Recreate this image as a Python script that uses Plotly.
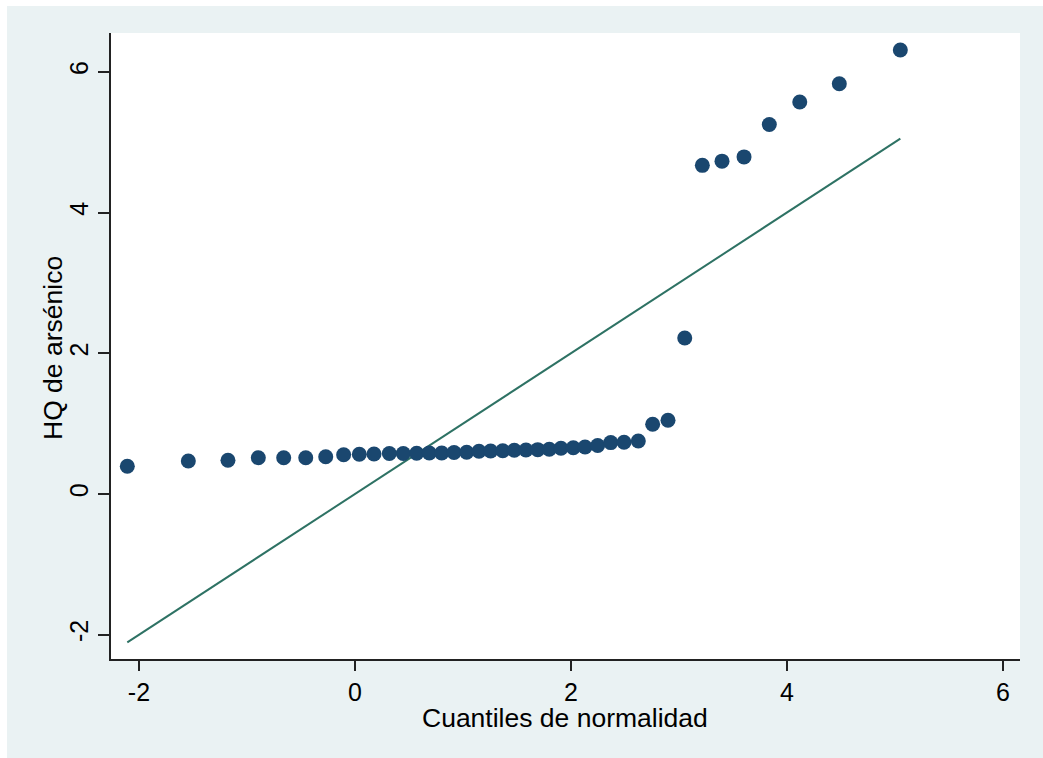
import plotly.graph_objects as go

normal_quantiles = [
    -2.108, -1.543, -1.176, -0.895, -0.660, -0.456, -0.271, -0.105, 0.040, 0.176,
    0.318, 0.447, 0.571, 0.688, 0.803, 0.917, 1.034, 1.148, 1.256, 1.368,
    1.475, 1.583, 1.692, 1.799, 1.907, 2.021, 2.130, 2.247, 2.368, 2.491,
    2.623, 2.756, 2.898, 3.053, 3.216, 3.398, 3.602, 3.836, 4.118, 4.484,
    5.049,
]
hq_arsenico = [
    0.394, 0.469, 0.479, 0.516, 0.516, 0.516, 0.530, 0.558, 0.564, 0.568,
    0.575, 0.575, 0.578, 0.583, 0.583, 0.590, 0.593, 0.607, 0.611, 0.615,
    0.621, 0.625, 0.630, 0.635, 0.650, 0.658, 0.668, 0.690, 0.730, 0.735,
    0.753, 0.990, 1.047, 2.217, 4.670, 4.730, 4.790, 5.250, 5.570, 5.830,
    6.310,
]
# Reference line y = x over the range of the normal quantiles
ref_line_x = [-2.108, 5.049]
ref_line_y = [-2.108, 5.049]

x_ticks = [-2, 0, 2, 4, 6]
y_ticks = [-2, 0, 2, 4, 6]

x_title = "Cuantiles de normalidad"
y_title = "HQ de arsénico"

NAVY = "#1a476f"
LINE = "#2e7264"
BG = "#eaf2f3"

fig = go.Figure()
fig.add_trace(go.Scatter(
    x=ref_line_x, y=ref_line_y, mode="lines",
    line=dict(color=LINE, width=2), hoverinfo="skip", showlegend=False,
))
fig.add_trace(go.Scatter(
    x=normal_quantiles, y=hq_arsenico, mode="markers",
    marker=dict(color=NAVY, size=15, line=dict(width=0)),
    showlegend=False,
))

W, H = 1043, 758
L, R, T, B = 111, 23, 33, 99
pw, ph = W - L - R, H - T - B

def px_x(p):
    return (p - L) / pw

def px_y(p):
    return (H - B - p) / ph

FONT = "Liberation Sans, Arial, sans-serif"

fig.update_layout(
    width=W, height=H,
    margin=dict(l=L, r=R, t=T, b=B, pad=0),
    paper_bgcolor=BG,
    plot_bgcolor="white",
    font=dict(family=FONT, size=25, color="black"),
    xaxis=dict(
        range=[-2.259, 6.157], tickvals=x_ticks, ticktext=[str(v) for v in x_ticks],
        showgrid=False, zeroline=False, showline=True, linecolor="#222", linewidth=2,
        ticks="outside", ticklen=10, tickwidth=1.5, tickcolor="#222",
        tickfont=dict(size=25),
    ),
    yaxis=dict(
        range=[-2.345, 6.551], tickvals=y_ticks, ticktext=[str(v) for v in y_ticks],
        showgrid=False, zeroline=False, showline=True, linecolor="#222", linewidth=2,
        ticks="outside", ticklen=11, tickwidth=1.5, tickcolor="#222",
        tickangle=-90, tickfont=dict(size=25),
    ),
    annotations=[
        dict(text=x_title, xref="paper", yref="paper", x=px_x(565), y=px_y(718),
             xanchor="center", yanchor="middle", showarrow=False,
             font=dict(family=FONT, size=26.5, color="black")),
        dict(text=y_title, xref="paper", yref="paper", x=px_x(53), y=px_y(348),
             xanchor="center", yanchor="middle", textangle=-90, showarrow=False,
             font=dict(family=FONT, size=26.5, color="black")),
    ],
    shapes=[
        dict(type="rect", xref="paper", yref="paper", x0=px_x(0), x1=px_x(W),
             y0=px_y(6), y1=px_y(0), fillcolor="white", line=dict(width=0), layer="below"),
        dict(type="rect", xref="paper", yref="paper", x0=px_x(0), x1=px_x(7),
             y0=px_y(H), y1=px_y(0), fillcolor="white", line=dict(width=0), layer="below"),
    ],
)

fig.write_html("out.html")
